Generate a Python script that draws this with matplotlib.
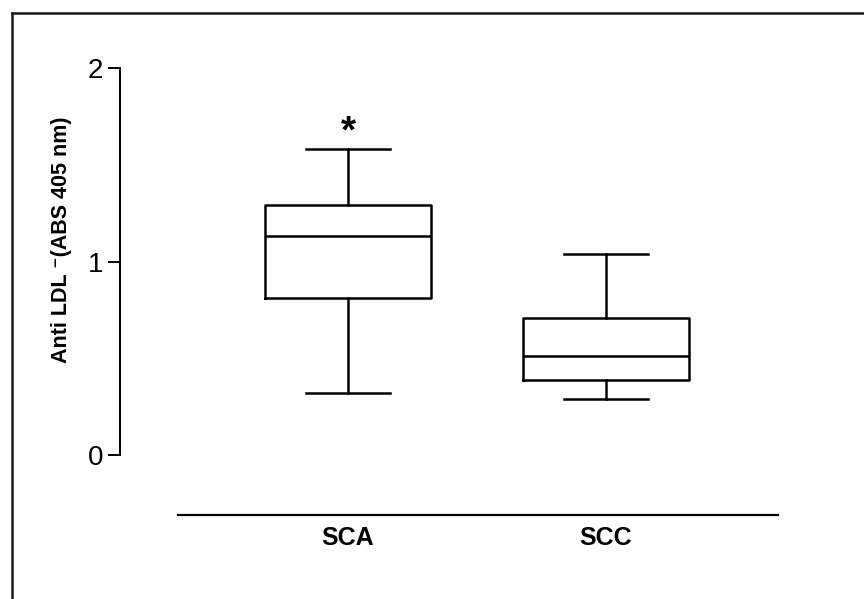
import matplotlib
matplotlib.use("Agg")
import matplotlib.pyplot as plt
from matplotlib.lines import Line2D

plt.rcParams['font.family'] = ['Liberation Sans', 'DejaVu Sans']

# Data
categories = ["SCA", "SCC"]
whisker_low = [0.32, 0.29]
q1 = [0.81, 0.39]
median = [1.13, 0.51]
q3 = [1.29, 0.71]
whisker_high = [1.58, 1.04]
significance = ["*", ""]
yticks = [0, 1, 2]

W, H, DPI = 864, 599, 100
fig = plt.figure(figsize=(W / DPI, H / DPI), dpi=DPI)
fig.patch.set_facecolor("white")

# axes in pixel coordinates
left_px, right_px, top_px, bottom_px = 120, 778, 60, 530
ax = fig.add_axes([left_px / W, 1 - bottom_px / H,
                   (right_px - left_px) / W, (bottom_px - top_px) / H])

stats = []
for i, c in enumerate(categories):
    stats.append(dict(label=c, whislo=whisker_low[i], q1=q1[i], med=median[i],
                      q3=q3[i], whishi=whisker_high[i], fliers=[]))

lw = 1.8
ax.bxp(stats, positions=[1, 2], widths=0.645, showfliers=False,
       boxprops=dict(color="black", linewidth=lw),
       medianprops=dict(color="black", linewidth=lw),
       whiskerprops=dict(color="black", linewidth=lw),
       capprops=dict(color="black", linewidth=lw),
       capwidths=0.325, manage_ticks=False)

# scale: y pixel 455 -> 0, 68 -> 2
ppu_y = (455 - 68) / 2.0
ax.set_ylim(-(bottom_px - 455) / ppu_y, 2 + (68 - top_px) / ppu_y)
ppu_x = 258.0
ax.set_xlim(1 - (348 - left_px) / ppu_x, 2 + (right_px - 606) / ppu_x)

for i, s in enumerate(significance):
    if s:
        ax.text(i + 1, whisker_high[i] + 0.085, s, ha="center", va="center",
                fontsize=28, fontweight="bold")

for sp in ["top", "right"]:
    ax.spines[sp].set_visible(False)
ax.spines["left"].set_bounds(0, 2)
ax.spines["left"].set_linewidth(1.4)
ax.spines["bottom"].set_position(("data", -(515 - 455) / ppu_y))
ax.spines["bottom"].set_bounds(1 - (348 - 178) / ppu_x, 2 + (778 - 606) / ppu_x)
ax.spines["bottom"].set_linewidth(1.6)

ax.set_yticks(yticks)
ax.set_yticklabels([str(t) for t in yticks], fontsize=20)
ax.tick_params(axis="y", length=9, width=1.4, pad=3)
ax.set_xticks([1, 2])
ax.set_xticklabels(categories, fontsize=18, fontweight="bold")
ax.tick_params(axis="x", length=0, pad=8)
ax.patch.set_alpha(0)

# y-axis title placed at its position in the reference
fig.text(62 / W, 1 - 240 / H, "Anti LDL \u207b(ABS 405 nm)", rotation=90,
         ha="center", va="center", fontsize=15.5, fontweight="bold")

# figure frame (top and left edges visible)
fig.add_artist(Line2D([12 / W, 12 / W], [0, 1 - 13 / H], transform=fig.transFigure,
                      color="#1a1a1a", linewidth=1.8))
fig.add_artist(Line2D([12 / W, 1], [1 - 13 / H, 1 - 13 / H], transform=fig.transFigure,
                      color="#1a1a1a", linewidth=1.8))

fig.savefig("out.png", dpi=DPI, facecolor="white")
